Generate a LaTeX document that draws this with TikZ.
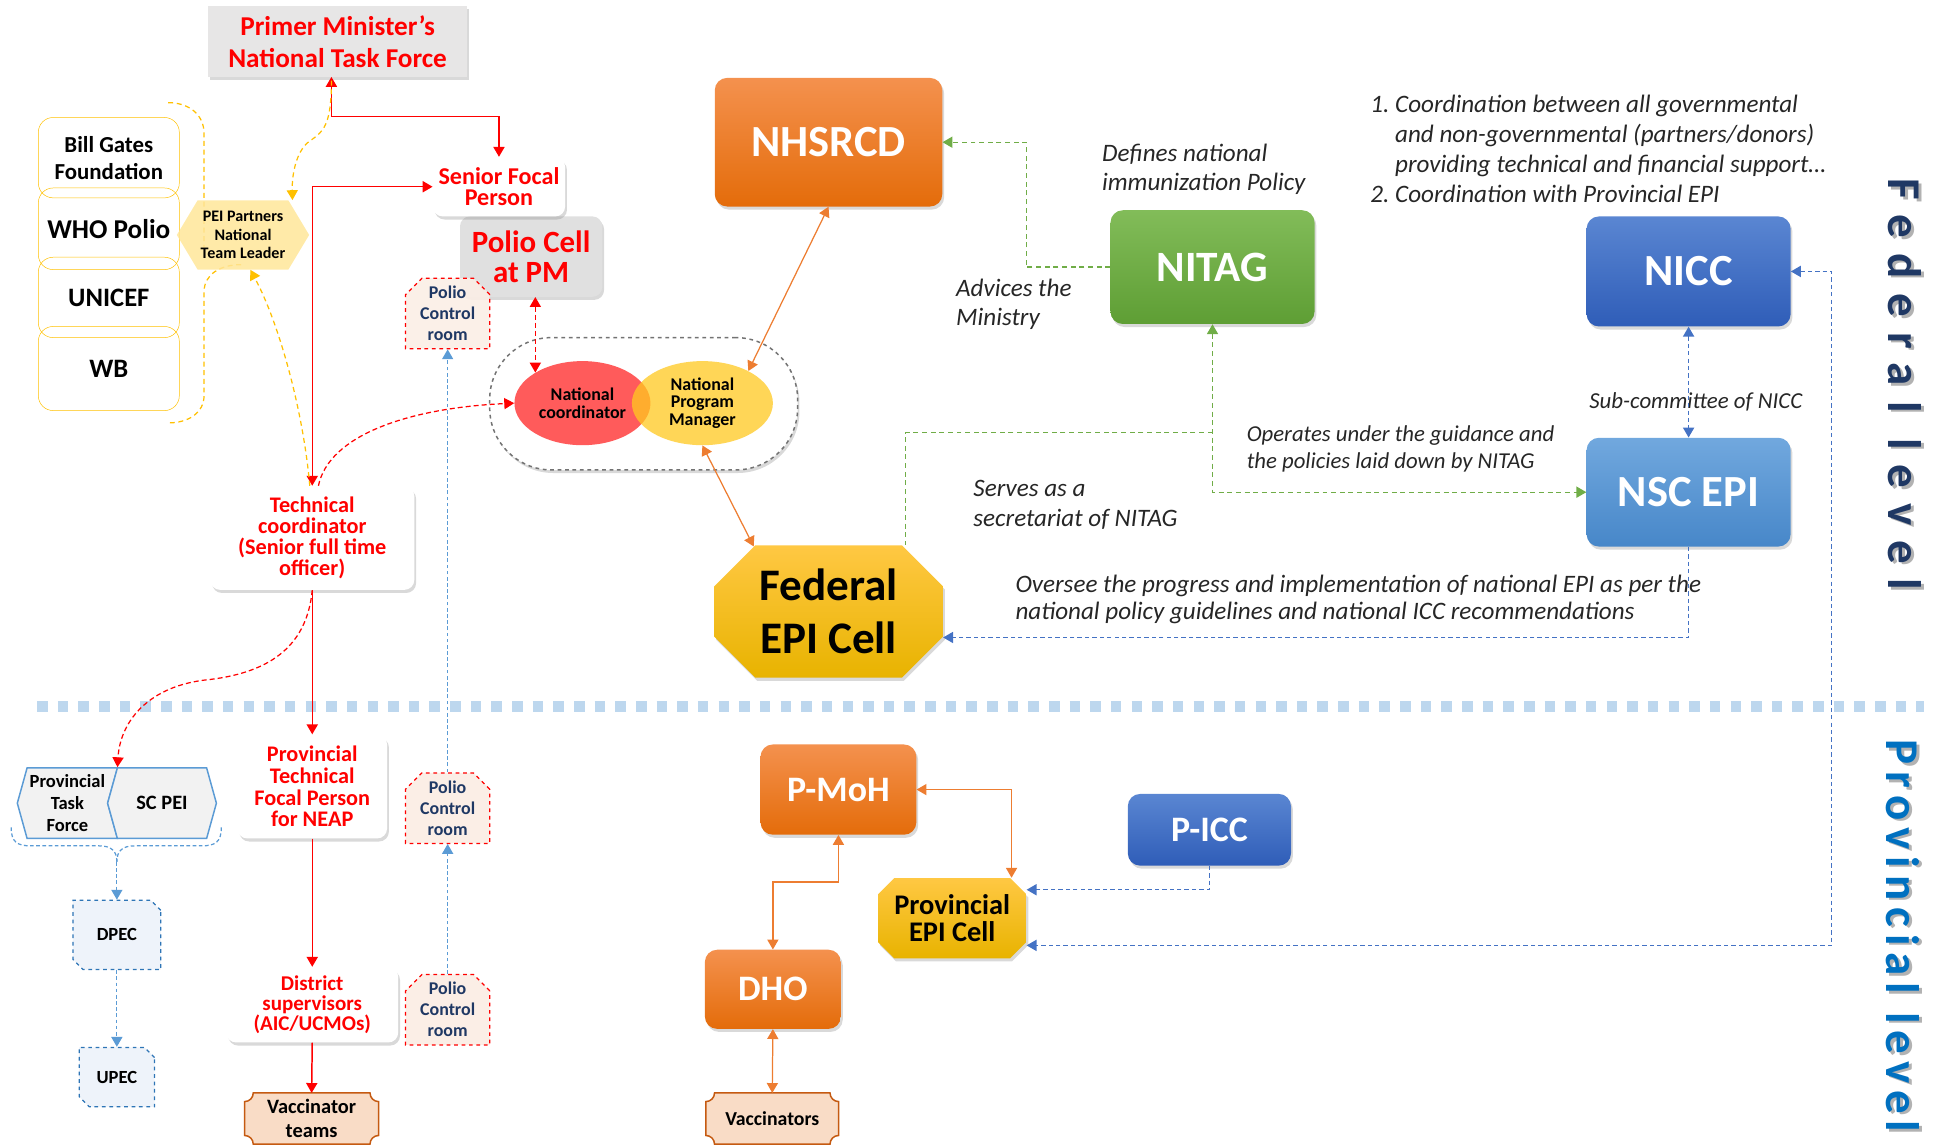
\documentclass[tikz,border=0pt]{standalone}
\usepackage{fontspec}
\setmainfont{Carlito}
\usepackage{tikz}
\usetikzlibrary{arrows.meta,calc,shapes.geometric,shapes.misc,shapes.symbols,shadows,backgrounds}

\definecolor{tfred}{HTML}{FF0000}
\definecolor{pcrnavy}{HTML}{1F3864}
\definecolor{pcrfill}{HTML}{FBEEE6}
\definecolor{boxgrey}{HTML}{E7E6E6}
\definecolor{celgrey}{HTML}{E0E0E0}
\definecolor{orgtop}{HTML}{F4914E}
\definecolor{orgbot}{HTML}{E46C0A}
\definecolor{grntop}{HTML}{82BC59}
\definecolor{grnbot}{HTML}{5E9E34}
\definecolor{blutop}{HTML}{5A86D2}
\definecolor{blubot}{HTML}{2F5DB8}
\definecolor{ltbtop}{HTML}{71A8DE}
\definecolor{ltbbot}{HTML}{4787C9}
\definecolor{goldtop}{HTML}{FFC843}
\definecolor{goldbot}{HTML}{E8B300}
\definecolor{ncred}{HTML}{FF5B5B}
\definecolor{npmyel}{HTML}{FFC91F}
\definecolor{peiyel}{HTML}{FFE699}
\definecolor{partyel}{HTML}{FFC000}
\definecolor{plqfill}{HTML}{F9DCC6}
\definecolor{plqline}{HTML}{C55A11}
\definecolor{arrorg}{HTML}{ED7D31}
\definecolor{arrgrn}{HTML}{70AD47}
\definecolor{arrblu}{HTML}{4472C4}
\definecolor{ltblu}{HTML}{5B9BD5}
\definecolor{sepblu}{HTML}{BDD7EE}
\definecolor{ptfgrey}{HTML}{F2F2F2}
\definecolor{dpecfill}{HTML}{EEF3FA}
\definecolor{dpecline}{HTML}{2E75B6}
\definecolor{fedlbl}{HTML}{1F3864}
\definecolor{provlbl}{HTML}{0070C0}

% concave-corner frame round a node
\newcommand{\plaqueframe}[1]{%
  \begin{scope}[on background layer]
    \draw[draw=plqline,fill=plqfill,line width=1.2pt]
      ($(#1.north west)+(7,0)$) -- ($(#1.north east)+(-7,0)$)
      .. controls ($(#1.north east)+(-7,3.9)$) and ($(#1.north east)+(-3.9,7)$) .. ($(#1.north east)+(0,7)$)
      -- ($(#1.south east)+(0,-7)$)
      .. controls ($(#1.south east)+(-3.9,-7)$) and ($(#1.south east)+(-7,-3.9)$) .. ($(#1.south east)+(-7,0)$)
      -- ($(#1.south west)+(7,0)$)
      .. controls ($(#1.south west)+(7,-3.9)$) and ($(#1.south west)+(3.9,-7)$) .. ($(#1.south west)+(0,-7)$)
      -- ($(#1.north west)+(0,7)$)
      .. controls ($(#1.north west)+(3.9,7)$) and ($(#1.north west)+(7,3.9)$) .. ($(#1.north west)+(7,0)$) -- cycle;
  \end{scope}}

\begin{document}
\begin{tikzpicture}[x=1pt,y=-1pt,>={Triangle[length=8pt,width=9pt]},
  fs/.style 2 args={font=\fontsize{#1}{#2}\selectfont\bfseries},
  it/.style 2 args={font=\fontsize{#1}{#2}\selectfont\itshape},
  shd/.style={drop shadow={shadow xshift=1.5pt,shadow yshift=-2.5pt,opacity=.3}},
  whitebox/.style={shd,fill=white,rounded corners=8pt,align=center,text=tfred,inner sep=1pt},
  greybox/.style={shd,fill=boxgrey,align=center,text=tfred,inner sep=1pt},
  orgbox/.style={shd,rounded corners=10pt,top color=orgtop,bottom color=orgbot,text=white,inner sep=1pt,fs={36}{36}},
  grnbox/.style={shd,rounded corners=10pt,top color=grntop,bottom color=grnbot,text=white,inner sep=1pt,fs={35}{36}},
  blubox/.style={shd,rounded corners=10pt,top color=blutop,bottom color=blubot,text=white,inner sep=1pt,fs={36}{36}},
  ltbbox/.style={shd,rounded corners=10pt,top color=ltbtop,bottom color=ltbbot,text=white,inner sep=1pt,fs={36}{36}},
  goldbox/.style={shd,chamfered rectangle,chamfered rectangle angle=45,chamfered rectangle xsep=30pt,
    top color=goldtop,bottom color=goldbot,align=center,inner sep=1pt},
  pcrbox/.style={chamfered rectangle,chamfered rectangle corners={north west,north east},chamfered rectangle angle=45,
    chamfered rectangle xsep=10pt,draw=tfred,dashed,line width=1pt,fill=pcrfill,text=pcrnavy,align=center,
    minimum width=68pt,minimum height=57pt,inner sep=0pt,fs={14.5}{17}},
  partbox/.style={draw=partyel,rounded corners=12pt,minimum width=114pt,align=center,inner sep=0pt},
  plq/.style={align=center,inner sep=0pt},
  note/.style={it={20.3}{23},align=left,anchor=west,inner sep=0pt,text=black!85},
  lvl/.style={rotate=-90,font={\fontsize{38}{38}\selectfont\bfseries\addfontfeature{LetterSpace=#1}}},
  redline/.style={draw=tfred,line width=1.2pt},
  reddash/.style={draw=tfred,line width=1pt,dash pattern=on 4pt off 2.5pt},
  orline/.style={draw=arrorg,line width=1pt},
  grdash/.style={draw=arrgrn,line width=1pt,dash pattern=on 4pt off 3pt},
  bldash/.style={draw=arrblu,line width=1pt,dash pattern=on 3.5pt off 2.5pt},
  ltdash/.style={draw=ltblu,line width=1pt,dash pattern=on 3pt off 2pt},
  yldash/.style={draw=partyel,line width=1pt,dash pattern=on 4pt off 3pt},
  sepline/.style={draw=sepblu,line width=8.5pt,dash pattern=on 8.5pt off 8.2pt}]
  \useasboundingbox (0,0) rectangle (1568,927);

  % 連邦レベル
  \node[greybox,fs={22}{26},minimum width=210pt,minimum height=57pt] (pm) at (273,33.5) {Primer Minister’s\\National Task Force};
  \node[greybox,fill=celgrey,rounded corners=8pt,fs={25}{24},minimum width=115pt,minimum height=65pt] (pcell) at (429.5,207.5) {Polio Cell\\at PM};
  \node[whitebox,fs={19.5}{17},minimum width=107pt,minimum height=48pt] (sfp) at (403.5,151) {Senior Focal\\Person};
  \node[pcrbox,fill opacity=.9,text opacity=1] (pcr1) at (362,253.5) {Polio\\Control\\room};

  \node[draw=black!55,dashed,line width=1.2pt,fill=white,rounded corners=50pt,shd,minimum width=249pt,minimum height=107pt] (grp) at (520.5,326.5) {};
  \node[ellipse,fill=ncred,minimum width=110pt,minimum height=68pt,fs={14.5}{14.5},align=center,inner sep=0pt] (nc) at (471,326) {National\\coordinator};
  \node[ellipse,fill=npmyel,fill opacity=.75,text opacity=1,minimum width=114pt,minimum height=68pt,fs={14.5}{14},align=center,inner sep=0pt] (npm) at (568,326) {National\\Program\\Manager};

  \node[orgbox,minimum width=184pt,minimum height=104pt] (nhsrcd) at (670,115) {NHSRCD};
  \node[grnbox,minimum width=165pt,minimum height=92pt] (nitag) at (980.5,216) {NITAG};
  \node[blubox,minimum width=165pt,minimum height=89pt] (nicc) at (1365.5,219.5) {NICC};
  \node[ltbbox,minimum width=165pt,minimum height=88pt] (nsc) at (1365.5,398) {NSC EPI};
  \node[goldbox,fs={36.5}{43},minimum width=185pt,minimum height=107pt] (fed) at (670,494.5) {Federal\\EPI Cell};

  % パートナー
  \node[partbox,minimum height=65pt,fs={18.5}{22}] (bgf) at (88,127.5) {Bill Gates\\Foundation};
  \node[partbox,minimum height=66pt,fs={22}{22}] (who) at (88,185) {WHO Polio};
  \node[partbox,minimum height=65pt,fs={21.5}{22}] (unicef) at (88,240.5) {UNICEF};
  \node[partbox,minimum height=68pt,fs={21.5}{22}] (wb) at (88,298) {WB};
  \draw[yldash] (136,83) .. controls (152,83) and (165,92) .. (165,108) -- (165,200);
  \draw[yldash] (195,214) .. controls (178,214) and (165,222) .. (165,236) -- (165,320) .. controls (165,334) and (152,342) .. (136,342);
  \node[signal,signal to=west and east,signal pointer angle=118,fill=peiyel,fill opacity=.85,text opacity=1,fs={13}{15},align=center,
    minimum width=107pt,minimum height=56pt,inner sep=0pt] (pei) at (196.5,190) {PEI Partners\\National\\Team Leader};

  \node[whitebox,fs={18}{17},minimum width=165pt,minimum height=84pt] (tc) at (252.5,435) {Technical\\coordinator\\(Senior full time\\officer)};

  % 州レベル
  \node[whitebox,fs={18}{17.5},minimum width=121pt,minimum height=84pt] (ptfp) at (252.5,636) {Provincial\\Technical\\Focal Person\\for NEAP};
  \node[whitebox,fs={17}{16},minimum width=139pt,minimum height=61pt] (dsup) at (252.5,812.5) {District\\supervisors\\(AIC/UCMOs)};
  \node[plq,fs={16.5}{20},minimum width=108pt,minimum height=41pt] (vteam) at (252,904.5) {Vaccinator\\teams};
  \plaqueframe{vteam}
  \node[pcrbox] (pcr2) at (362,653.5) {Polio\\Control\\room};
  \node[pcrbox] (pcr3) at (362,816.5) {Polio\\Control\\room};

  \node[signal,signal to=west,signal from=east,signal pointer angle=149,draw=ltblu,line width=1.2pt,fill=ptfgrey,fs={15}{18},align=center,
    minimum width=81pt,minimum height=57pt,inner sep=0pt] (ptf) at (54.5,649.5) {Provincial\\Task\\Force};
  \node[signal,signal to=west and east,signal pointer angle=149,draw=ltblu,line width=1.2pt,fill=ptfgrey,fs={16.5}{18},
    minimum width=88pt,minimum height=57pt,inner sep=0pt] (scpei) at (131,649.5) {SC PEI};
  \node[chamfered rectangle,chamfered rectangle corners={north east,south west},chamfered rectangle angle=45,chamfered rectangle xsep=9pt,
    draw=dpecline,dashed,line width=1pt,fill=dpecfill,fs={15}{15},minimum width=71pt,minimum height=56pt,inner sep=0pt] (dpec) at (94.5,756) {DPEC};
  \node[chamfered rectangle,chamfered rectangle corners={north east,south west},chamfered rectangle angle=45,chamfered rectangle xsep=8pt,
    draw=dpecline,dashed,line width=1pt,fill=dpecfill,fs={15}{15},minimum width=61pt,minimum height=48pt,inner sep=0pt] (upec) at (94.5,871) {UPEC};

  \node[orgbox,fs={29}{29},minimum width=126pt,minimum height=73pt] (pmoh) at (678,638.5) {P-MoH};
  \node[orgbox,fs={29}{29},minimum width=110pt,minimum height=64pt] (dho) at (625,800) {DHO};
  \node[blubox,fs={29}{29},minimum width=132pt,minimum height=58pt] (picc) at (978,671) {P-ICC};
  \node[goldbox,chamfered rectangle xsep=10pt,fs={23}{22},minimum width=120pt,minimum height=65pt] (pepi) at (770,742.5) {Provincial\\EPI Cell};
  \node[plq,fs={16}{16},minimum width=107pt,minimum height=41pt] (vacc) at (624.5,904.5) {Vaccinators};
  \plaqueframe{vacc}

  % 注記
  \node[note] (defn) at (891,137) {Defines national\\immunization Policy};
  \node[note] (advc) at (773,246) {Advices the\\Ministry};
  \node[note,it={18.4}{22}] (oper) at (1008,363) {Operates under the guidance and\\the policies laid down by NITAG};
  \node[note,it={20.3}{24}] (serv) at (787,408) {Serves as a\\secretariat of NITAG};
  \node[note,it={18.5}{22}] (subc) at (1285,325) {Sub-committee of NICC};
  \node[note,it={20.3}{22}] (ovsee) at (821,485) {Oversee the progress and implementation of national EPI as per the\\national policy guidelines and national ICC recommendations};
  \node[note,it={20.3}{24.3}] (coord) at (1108,120.5) {1.\ Coordination between all governmental\\\hphantom{1.\ }and non-governmental (partners/donors)\\\hphantom{1.\ }providing technical and financial support…\\2.\ Coordination with Provincial EPI};

  % 区切り線とレベル名
  \draw[sepline] (30,571.5) -- (1556,571.5);
  \node[lvl=32,text=black!30] at (1542.5,313) {Federal level};
  \node[lvl=32,text=fedlbl] (fedlvl) at (1540,311) {Federal level};
  \node[lvl=15,text=black!30] at (1541.5,759) {Provincial level};
  \node[lvl=15,text=provlbl] (provlvl) at (1539,757) {Provincial level};

  % 赤の矢印
  \draw[redline,<->] ($(pm.south)+(-5,0)$) -- ++(0,32) -| (sfp.north);
  \draw[redline,<->] (sfp.west) -| (tc.north);
  \draw[redline,->] (tc.south) -- (ptfp.north);
  \draw[redline,->] (ptfp.south) -- (dsup.north);
  \draw[redline,->] (dsup.south) -- (vteam.north);
  \draw[reddash,<->] (pcell.south -| nc.147) -- (nc.147);
  \draw[reddash,->] ($(tc.north)+(5,0)$) .. controls (266,352) and (330,330) .. (nc.west);
  \draw[reddash,->] (tc.south) .. controls (248,525) and (215,545) .. (165,550) .. controls (118,556) and (97,585) .. ($(ptf.north)+(40.5,0)$);

  % 黄色の点線
  \draw[yldash,->] ($(pm.south)+(-5,3)$) .. controls (268,100) and (262,106) .. (252,113) .. controls (240,120) and (236,140) .. ($(pei.north)+(40,0)$);
  \draw[yldash,->] ($(tc.north)+(-2,0)$) .. controls (245,330) and (225,260) .. ($(pei.south)+(6,0)$);

  % 青の点線
  \draw[ltdash,->] (pcr3.north) -- (pcr2.south);
  \draw[ltdash,->] (pcr2.north) -- (pcr1.south);
  \coordinate (bcusp) at (94.5,697);
  \draw[ltdash] (9,669) .. controls (9,681) and (14,684) .. (25,684) -- (80,684) .. controls (90,684) and (94.5,688) .. (bcusp);
  \draw[ltdash] (179,669) .. controls (179,681) and (174,684) .. (163,684) -- (109,684) .. controls (99,684) and (94.5,688) .. (bcusp);
  \draw[ltdash,->] (bcusp) -- (dpec.north);
  \draw[ltdash,->] (dpec.south) -- (upec.north);

  % オレンジ
  \draw[orline,<->] (nhsrcd.south) -- (npm.35);
  \draw[orline,<->] (npm.south) -- (fed.139);
  \draw[orline,<->] (pmoh.east) -| ($(pepi.north)+(48,0)$);
  \draw[orline,<->] (pmoh.south) -- ++(0,38) -| (dho.north);
  \draw[orline,<->] (dho.south) -- (vacc.north);

  % 緑
  \draw[grdash,->] (nitag.west) -- ++(-68,0) |- (nhsrcd.east);
  \draw[grdash,<->] (nitag.south) |- (nsc.west);
  \coordinate (gsplit) at (nitag.south |- 0,350);
  \draw[grdash] (gsplit) -| ($(fed.north)+(62,0)$);

  % 青
  \draw[bldash,<->] (nicc.south) -- (nsc.north);
  \draw[bldash,->] (nsc.south) |- ($(fed.east)+(0,21)$);
  \draw[bldash,<->] (nicc.east) -- ++(33,0) |- ($(pepi.east)+(0,22)$);
  \draw[bldash,->] (picc.south) |- ($(pepi.east)+(0,-23)$);
\end{tikzpicture}
\end{document}
